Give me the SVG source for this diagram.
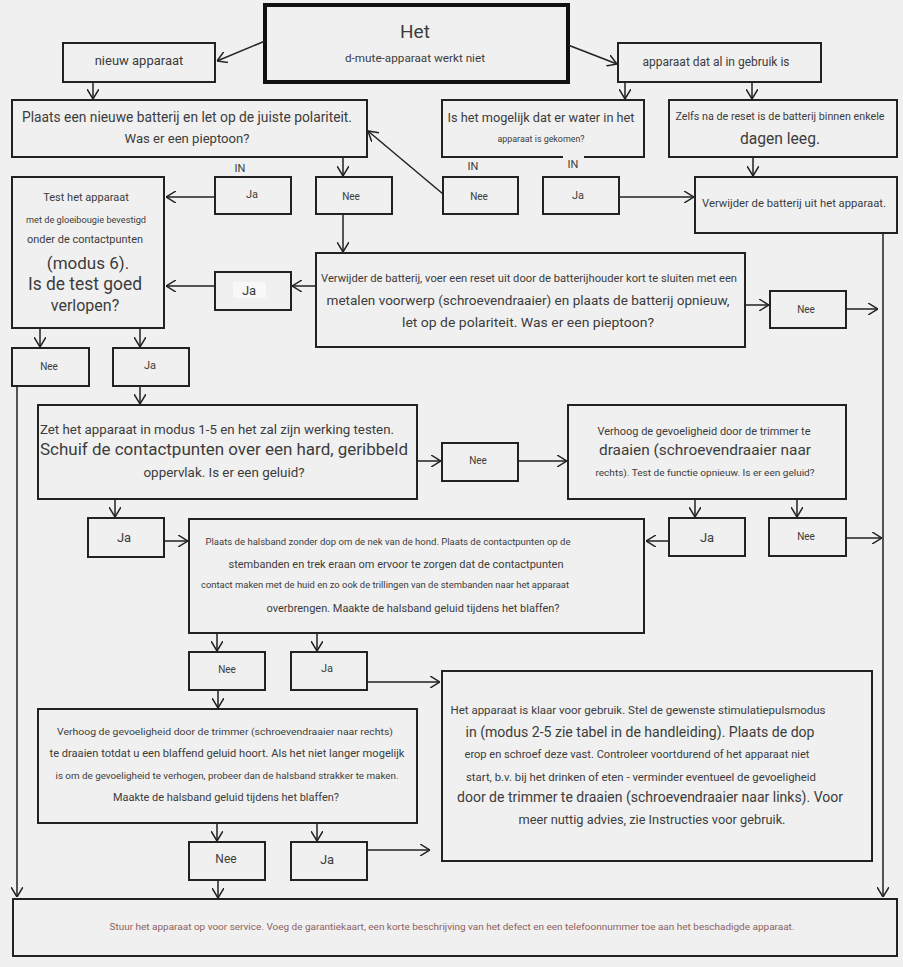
<svg xmlns="http://www.w3.org/2000/svg" width="903" height="967" viewBox="0 0 903 967">
<defs>
<marker id="a" viewBox="0 0 10 12" refX="10" refY="6" markerWidth="10" markerHeight="12" markerUnits="userSpaceOnUse" orient="auto">
<path d="M0,0 L10,6 L0,12" fill="none" stroke="#222" stroke-width="1.5"/>
</marker>
</defs>
<style>
.b{fill:none;stroke:#222;stroke-width:2}
.t{font-family:Roboto,"Liberation Sans",sans-serif;fill:#3c3c3c;text-anchor:middle}
.c path{fill:none;stroke:#222;stroke-width:1.5;marker-end:url(#a)}
.l{fill:none;stroke:#222;stroke-width:1.5}
</style>
<rect x="0" y="0" width="903" height="967" fill="#f0f0f0"/>

<g id="het"><rect x="265" y="5" width="303" height="77" fill="none" stroke="#111" stroke-width="4"/>
<text class="t" x="415" y="38" font-size="19">Het</text>
<text class="t" x="415" y="62" font-size="11" textLength="140" lengthAdjust="spacingAndGlyphs">d-mute-apparaat werkt niet</text></g>

<g id="nieuw"><rect class="b" x="63" y="43" width="152" height="39"/>
<text class="t" x="139" y="65" font-size="13">nieuw apparaat</text></g>

<g id="gebruik"><rect class="b" x="618" y="43" width="203" height="39"/>
<text class="t" x="716" y="66" font-size="12.5" textLength="147" lengthAdjust="spacingAndGlyphs">apparaat dat al in gebruik is</text></g>

<g id="plaats"><rect class="b" x="12" y="100" width="355" height="57"/>
<text class="t" x="187" y="122" font-size="14" textLength="330" lengthAdjust="spacingAndGlyphs">Plaats een nieuwe batterij en let op de juiste polariteit.</text>
<text class="t" x="187" y="143" font-size="13" textLength="125" lengthAdjust="spacingAndGlyphs">Was er een pieptoon?</text></g>

<g id="water"><rect class="b" x="442" y="100" width="202" height="57"/>
<text class="t" x="541" y="122" font-size="13.5" textLength="187" lengthAdjust="spacingAndGlyphs">Is het mogelijk dat er water in het</text>
<text class="t" x="541" y="142" font-size="9" textLength="87" lengthAdjust="spacingAndGlyphs">apparaat is gekomen?</text></g>

<g id="zelfs"><rect class="b" x="669" y="100" width="228" height="57"/>
<text class="t" x="780" y="120" font-size="10" textLength="209" lengthAdjust="spacingAndGlyphs">Zelfs na de reset is de batterij binnen enkele</text>
<text class="t" x="780" y="144" font-size="16" textLength="80" lengthAdjust="spacingAndGlyphs">dagen leeg.</text></g>

<g id="in-labels">
<rect x="563" y="155" width="21" height="5" fill="#f0f0f0"/>
<text class="t" x="240" y="172" font-size="11">IN</text>
<text class="t" x="473" y="170" font-size="11">IN</text>
<text class="t" x="573" y="168" font-size="11">IN</text></g>

<g id="ja1"><rect class="b" x="215" y="177" width="76" height="37"/>
<text class="t" x="252" y="198" font-size="11">Ja</text></g>
<g id="nee1"><rect class="b" x="316" y="177" width="76" height="37"/>
<text class="t" x="351" y="200" font-size="10">Nee</text></g>
<g id="nee2"><rect class="b" x="443" y="177" width="75" height="37"/>
<text class="t" x="479" y="200" font-size="10">Nee</text></g>
<g id="ja2"><rect class="b" x="543" y="177" width="76" height="37"/>
<text class="t" x="578" y="199" font-size="11">Ja</text></g>

<g id="verwijder"><rect class="b" x="695" y="177" width="202" height="56"/>
<text class="t" x="794" y="207" font-size="11" textLength="184" lengthAdjust="spacingAndGlyphs">Verwijder de batterij uit het apparaat.</text></g>

<g id="test"><rect class="b" x="12" y="177" width="152" height="151"/>
<text class="t" x="86" y="201" font-size="11">Test het apparaat</text>
<text class="t" x="86" y="223" font-size="8.5" textLength="120" lengthAdjust="spacingAndGlyphs">met de gloeibougie bevestigd</text>
<text class="t" x="85" y="243" font-size="10" textLength="116" lengthAdjust="spacingAndGlyphs">onder de contactpunten</text>
<text class="t" x="88" y="269" font-size="17">(modus 6).</text>
<text class="t" x="85" y="290" font-size="17.5" textLength="114" lengthAdjust="spacingAndGlyphs">Is de test goed</text>
<text class="t" x="85" y="311" font-size="16">verlopen?</text></g>

<g id="reset"><rect class="b" x="316" y="253" width="429" height="94"/>
<text class="t" x="529" y="282" font-size="10" textLength="416" lengthAdjust="spacingAndGlyphs">Verwijder de batterij, voer een reset uit door de batterijhouder kort te sluiten met een</text>
<text class="t" x="528" y="305" font-size="13" textLength="403" lengthAdjust="spacingAndGlyphs">metalen voorwerp (schroevendraaier) en plaats de batterij opnieuw,</text>
<text class="t" x="528" y="327" font-size="13" textLength="252" lengthAdjust="spacingAndGlyphs">let op de polariteit. Was er een pieptoon?</text></g>

<g id="ja3"><rect class="b" x="215" y="272" width="76" height="38"/>
<rect x="233" y="282" width="33" height="16" rx="2" fill="#f8f8f8"/>
<text class="t" x="249" y="295" font-size="13">Ja</text></g>

<g id="nee3"><rect class="b" x="770" y="291" width="76" height="37"/>
<text class="t" x="806" y="313" font-size="10">Nee</text></g>

<g id="nee4"><rect class="b" x="12" y="348" width="77" height="38"/>
<text class="t" x="49" y="370" font-size="10">Nee</text></g>
<g id="ja4"><rect class="b" x="113" y="348" width="76" height="38"/>
<text class="t" x="150" y="369" font-size="11">Ja</text></g>

<g id="zet"><rect class="b" x="38" y="405" width="379" height="94"/>
<text class="t" x="217" y="434" font-size="13" textLength="354" lengthAdjust="spacingAndGlyphs">Zet het apparaat in modus 1-5 en het zal zijn werking testen.</text>
<text class="t" x="224" y="455" font-size="16" textLength="368" lengthAdjust="spacingAndGlyphs">Schuif de contactpunten over een hard, geribbeld</text>
<text class="t" x="224" y="477" font-size="13" textLength="161" lengthAdjust="spacingAndGlyphs">oppervlak. Is er een geluid?</text></g>

<g id="nee5"><rect class="b" x="442" y="443" width="76" height="38"/>
<text class="t" x="478" y="464" font-size="10">Nee</text></g>

<g id="verhoog"><rect class="b" x="568" y="405" width="278" height="94"/>
<text class="t" x="704" y="435" font-size="10" textLength="213" lengthAdjust="spacingAndGlyphs">Verhoog de gevoeligheid door de trimmer te</text>
<text class="t" x="705" y="455" font-size="15" textLength="212" lengthAdjust="spacingAndGlyphs">draaien (schroevendraaier naar</text>
<text class="t" x="705" y="476" font-size="9.5" textLength="219" lengthAdjust="spacingAndGlyphs">rechts). Test de functie opnieuw. Is er een geluid?</text></g>

<g id="ja5"><rect class="b" x="669" y="518" width="76" height="38"/>
<text class="t" x="707" y="542" font-size="13">Ja</text></g>
<g id="nee6"><rect class="b" x="769" y="518" width="77" height="38"/>
<text class="t" x="806" y="540" font-size="10">Nee</text></g>

<g id="ja6"><rect class="b" x="88" y="518" width="76" height="39"/>
<text class="t" x="124" y="542" font-size="13">Ja</text></g>

<g id="halsband"><rect class="b" x="189" y="519" width="455" height="114"/>
<text class="t" x="388" y="545" font-size="9" textLength="365" lengthAdjust="spacingAndGlyphs">Plaats de halsband zonder dop om de nek van de hond. Plaats de contactpunten op de</text>
<text class="t" x="396" y="568" font-size="11" textLength="335" lengthAdjust="spacingAndGlyphs">stembanden en trek eraan om ervoor te zorgen dat de contactpunten</text>
<text class="t" x="385" y="588" font-size="8.5" textLength="368" lengthAdjust="spacingAndGlyphs">contact maken met de huid en zo ook de trillingen van de stembanden naar het apparaat</text>
<text class="t" x="413" y="612" font-size="11" textLength="293" lengthAdjust="spacingAndGlyphs">overbrengen. Maakte de halsband geluid tijdens het blaffen?</text></g>

<g id="nee7"><rect class="b" x="189" y="652" width="76" height="38"/>
<text class="t" x="227" y="673" font-size="10">Nee</text></g>
<g id="ja7"><rect class="b" x="291" y="652" width="76" height="38"/>
<text class="t" x="327" y="672" font-size="11">Ja</text></g>

<g id="verhoog2"><rect class="b" x="38" y="709" width="379" height="114"/>
<text class="t" x="225" y="735" font-size="9.5" textLength="336" lengthAdjust="spacingAndGlyphs">Verhoog de gevoeligheid door de trimmer (schroevendraaier naar rechts)</text>
<text class="t" x="227" y="757" font-size="10.5" textLength="355" lengthAdjust="spacingAndGlyphs">te draaien totdat u een blaffend geluid hoort. Als het niet langer mogelijk</text>
<text class="t" x="227" y="779" font-size="9.5" textLength="343" lengthAdjust="spacingAndGlyphs">is om de gevoeligheid te verhogen, probeer dan de halsband strakker te maken.</text>
<text class="t" x="226" y="801" font-size="10" textLength="226" lengthAdjust="spacingAndGlyphs">Maakte de halsband geluid tijdens het blaffen?</text></g>

<g id="nee8"><rect class="b" x="189" y="842" width="76" height="38"/>
<text class="t" x="226" y="863" font-size="12">Nee</text></g>
<g id="ja8"><rect class="b" x="291" y="842" width="76" height="38"/>
<text class="t" x="327" y="864" font-size="13">Ja</text></g>

<g id="klaar"><rect class="b" x="442" y="671" width="430" height="190"/>
<text class="t" x="638" y="714" font-size="11" textLength="375" lengthAdjust="spacingAndGlyphs">Het apparaat is klaar voor gebruik. Stel de gewenste stimulatiepulsmodus</text>
<text class="t" x="640" y="737" font-size="15" textLength="349" lengthAdjust="spacingAndGlyphs">in (modus 2-5 zie tabel in de handleiding). Plaats de dop</text>
<text class="t" x="637" y="758" font-size="10.5" textLength="345" lengthAdjust="spacingAndGlyphs">erop en schroef deze vast. Controleer voortdurend of het apparaat niet</text>
<text class="t" x="641" y="781" font-size="10.5" textLength="350" lengthAdjust="spacingAndGlyphs">start, b.v. bij het drinken of eten - verminder eventueel de gevoeligheid</text>
<text class="t" x="650" y="802" font-size="15" textLength="386" lengthAdjust="spacingAndGlyphs">door de trimmer te draaien (schroevendraaier naar links). Voor</text>
<text class="t" x="652" y="824" font-size="12.5" textLength="267" lengthAdjust="spacingAndGlyphs">meer nuttig advies, zie Instructies voor gebruik.</text></g>

<g id="service"><rect class="b" x="13" y="899" width="884" height="57"/>
<text x="452" y="930" font-size="9.5" font-family="Roboto,'Liberation Sans',sans-serif" fill="#8c6262" text-anchor="middle" textLength="685" lengthAdjust="spacingAndGlyphs">Stuur het apparaat op voor service. Voeg de garantiekaart, een korte beschrijving van het defect en een telefoonnummer toe aan het beschadigde apparaat.</text></g>

<g id="connectors" class="c">
<path d="M265,41 L217,61"/>
<path d="M568,45 L617,64"/>
<path d="M93,82 L93,99"/>
<path d="M625,82 L625,99"/>
<path d="M752,82 L752,99"/>
<path d="M343,157 L343,176"/>
<path d="M215,197 L166,197"/>
<path d="M443,194 L368,131"/>
<path d="M619,197 L694,197"/>
<path d="M753,157 L753,176"/>
<path d="M343,214 L343,252"/>
<path d="M316,286 L292,286"/>
<path d="M215,286 L166,286"/>
<path d="M745,305 L769,305"/>
<path d="M846,309 L878,309"/>
<path d="M40,328 L40,347"/>
<path d="M140,328 L140,347"/>
<path d="M17,386 L17,897"/>
<path d="M140,386 L140,404"/>
<path d="M883,233 L883,897"/>
<path d="M417,461 L441,461"/>
<path d="M518,461 L567,461"/>
<path d="M695,499 L695,517"/>
<path d="M797,499 L797,517"/>
<path d="M846,538 L882,538"/>
<path d="M669,541 L646,541"/>
<path d="M115,499 L115,517"/>
<path d="M164,541 L188,541"/>
<path d="M217,633 L217,651"/>
<path d="M317,633 L317,651"/>
<path d="M367,682 L440,682"/>
<path d="M218,690 L218,708"/>
<path d="M217,823 L217,841"/>
<path d="M317,823 L317,841"/>
<path d="M367,850 L430,850"/>
<path d="M218,880 L218,898"/>
</g>
</svg>
